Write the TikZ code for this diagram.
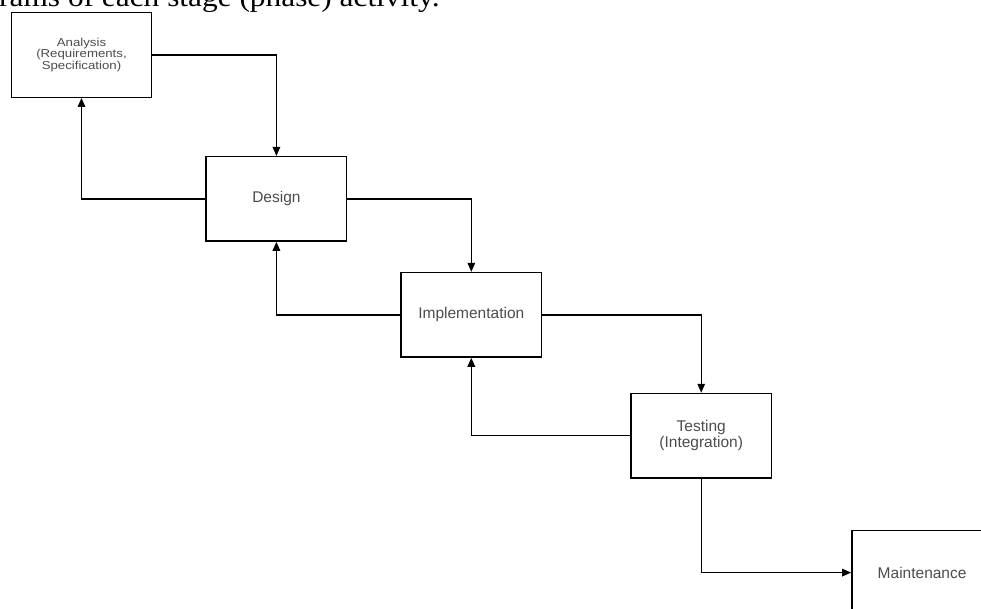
\documentclass[tikz,border=0pt]{standalone}
\usepackage{fontspec}
\setmainfont{Liberation Serif}
\setsansfont{Liberation Sans}
\newfontfamily\stagefont{Liberation Sans}
\newfontfamily\smallstagefont[FakeStretch=1.15]{Liberation Sans}
\newfontfamily\captionfont[FakeStretch=1.12]{Liberation Serif}
\usetikzlibrary{arrows.meta,positioning}

\begin{document}
\begin{tikzpicture}[
    x=1pt, y=-1pt,
    >={Triangle[length=9pt,width=7.5pt]},
    stage/.style={rectangle, draw=black, line width=1.4pt, minimum width=140.5pt, minimum height=84.5pt, align=center, text=black!70, font=\stagefont\fontsize{15.5}{16.5}\selectfont},
    flow/.style={line width=1.4pt, ->}
]
\path[use as bounding box, clip] (0,0) rectangle (981,609);

% Caption line, cut by the page edge
\node[anchor=base west, inner sep=0pt, font=\captionfont\fontsize{28}{30}\selectfont] (caption) at (-1,7) {rams of each stage (phase) activity.};

% Stages
\node[stage, font=\smallstagefont\fontsize{11.5}{11.2}\selectfont] (analysis) at (81.5,55) {Analysis\\(Requirements,\\Specification)};
\node[stage, below right=58pt and 53pt of analysis.south east] (design) {Design};
\node[stage, below right=30pt and 53pt of design.south east] (impl) {Implementation};
\node[stage, below right=35pt and 88pt of impl.south east] (testing) {Testing\\(Integration)};
\node[stage, below right=51pt and 79pt of testing.south east] (maint) {Maintenance};

% Forward flow
\draw[flow] (analysis.east) -| (design.north);
\draw[flow] (design.east) -| (impl.north);
\draw[flow] (impl.east) -| (testing.north);
\draw[flow] (testing.south) |- (maint.west);

% Feedback
\draw[flow] (design.west) -| (analysis.south);
\draw[flow] (impl.west) -| (design.south);
\draw[flow] (testing.west) -| (impl.south);

\end{tikzpicture}
\end{document}
